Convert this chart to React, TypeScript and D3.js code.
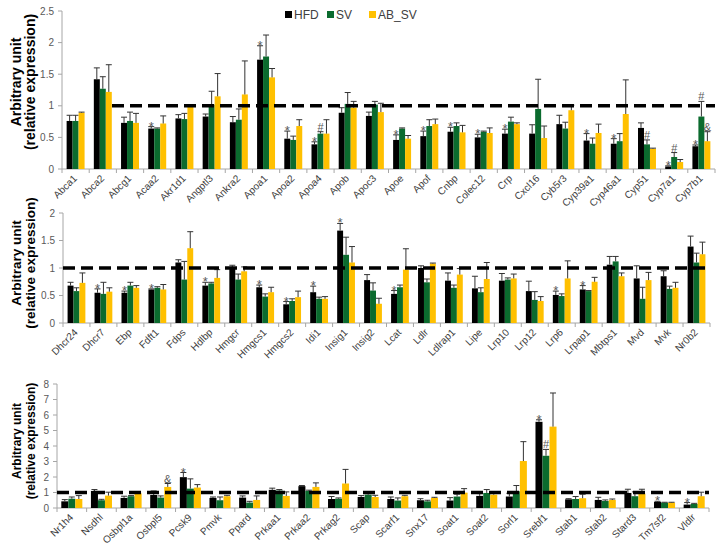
import React, { useRef, useEffect } from 'react';
import * as d3 from 'd3';

const series = ['HFD', 'SV', 'AB_SV'];
const colors = ['#000000', '#0b6b2e', '#ffc000'];

const genes1 = ['Abca1', 'Abca2', 'Abcg1', 'Acaa2', 'Akr1d1', 'Angptl3', 'Ankra2', 'Apoa1', 'Apoa2', 'Apoa4', 'Apob', 'Apoc3', 'Apoe', 'Apof', 'Cnbp', 'Colec12', 'Crp', 'Cxcl16', 'Cyb5r3', 'Cyp39a1', 'Cyp46a1', 'Cyp51', 'Cyp7a1', 'Cyp7b1'];
const hfd1 = [0.76, 1.42, 0.73, 0.64, 0.8, 0.83, 0.74, 1.73, 0.48, 0.39, 0.89, 0.84, 0.46, 0.52, 0.59, 0.5, 0.56, 0.56, 0.71, 0.45, 0.4, 0.65, 0.04, 0.36];
const hfd1Err = [0.09, 0.18, 0.09, 0.03, 0.06, 0.04, 0.09, 0.22, 0.12, 0.04, 0.08, 0.06, 0.08, 0.08, 0.07, 0.05, 0.07, 0.14, 0.14, 0.11, 0.08, 0.08, 0.01, 0.02];
const sv1 = [0.76, 1.27, 0.76, 0.64, 0.79, 1.02, 0.78, 1.78, 0.46, 0.56, 1.03, 1.02, 0.64, 0.68, 0.68, 0.59, 0.75, 0.95, 0.64, 0.4, 0.44, 0.39, 0.19, 0.83];
const sv1Err = [0.09, 0.19, 0.14, 0.01, 0.09, 0.21, 0.17, 0.34, 0.06, 0.03, 0.18, 0.05, 0.01, 0.1, 0.05, 0.01, 0.07, 0.47, 0.1, 0.09, 0.12, 0.07, 0.07, 0.24];
const ab1 = [0.89, 1.22, 0.73, 0.72, 0.99, 1.15, 1.18, 1.45, 0.68, 0.56, 0.97, 0.9, 0.48, 0.71, 0.58, 0.57, 0.71, 0.49, 0.93, 0.57, 0.87, 0.32, 0.11, 0.44];
const ab1Err = [0.01, 0.43, 0.15, 0.12, 0.02, 0.36, 0.53, 0.14, 0.1, 0.22, 0.1, 0.14, 0.05, 0.08, 0.11, 0.08, 0.02, 0.19, 0.08, 0.14, 0.54, 0.01, 0.04, 0.15];

const genes2 = ['Dhcr24', 'Dhcr7', 'Ebp', 'Fdft1', 'Fdps', 'Hdlbp', 'Hmgcr', 'Hmgcs1', 'Hmgcs2', 'Idi1', 'Insig1', 'Insig2', 'Lcat', 'Ldlr', 'Ldlrap1', 'Lipe', 'Lrp10', 'Lrp12', 'Lrp6', 'Lrpap1', 'Mbtps1', 'Mvd', 'Mvk', 'Nr0b2'];
const hfd2 = [0.68, 0.55, 0.55, 0.61, 1.1, 0.68, 1.01, 0.65, 0.34, 0.56, 1.68, 0.78, 0.53, 1.0, 0.77, 0.63, 0.77, 0.58, 0.51, 0.61, 1.06, 0.81, 0.85, 1.39];
const hfd2Err = [0.06, 0.07, 0.03, 0.01, 0.05, 0.06, 0.04, 0.04, 0.05, 0.11, 0.13, 0.1, 0.06, 0.04, 0.14, 0.22, 0.13, 0.18, 0.07, 0.07, 0.15, 0.23, 0.1, 0.19];
const sv2 = [0.58, 0.53, 0.68, 0.64, 0.79, 0.72, 0.79, 0.48, 0.4, 0.44, 1.24, 0.59, 0.65, 0.74, 0.64, 0.56, 0.79, 0.42, 0.49, 0.58, 1.12, 0.44, 0.62, 1.1];
const sv2Err = [0.06, 0.21, 0.06, 0.02, 0.33, 0.02, 0.1, 0.05, 0.04, 0.03, 0.32, 0.14, 0.04, 0.06, 0.05, 0.08, 0.03, 0.15, 0.04, 0.01, 0.09, 0.21, 0.05, 0.17];
const ab2 = [0.73, 0.57, 0.64, 0.61, 1.36, 0.82, 0.94, 0.56, 0.47, 0.44, 1.1, 0.35, 0.97, 1.08, 0.88, 0.8, 0.81, 0.4, 0.81, 0.75, 0.85, 0.78, 0.64, 1.25];
const ab2Err = [0.18, 0.07, 0.04, 0.09, 0.3, 0.15, 0.08, 0.09, 0.11, 0.04, 0.29, 0.1, 0.38, 0.01, 0.11, 0.3, 0.08, 0.08, 0.32, 0.08, 0.06, 0.14, 0.1, 0.22];

const genes3 = ['Nr1h4', 'Nsdhl', 'Osbpl1a', 'Osbpl5', 'Pcsk9', 'Pmvk', 'Ppard', 'Prkaa1', 'Prkaa2', 'Prkag2', 'Scap', 'Scarf1', 'Snx17', 'Soat1', 'Soat2', 'Sorl1', 'Srebf1', 'Stab1', 'Stab2', 'Stard3', 'Tm7sf2', 'Vldlr'];
const hfd3 = [0.43, 1.1, 0.65, 0.84, 1.99, 0.65, 0.67, 1.17, 1.41, 0.58, 0.71, 0.58, 0.5, 0.48, 0.78, 0.74, 5.56, 0.56, 0.52, 0.97, 0.39, 0.22];
const hfd3Err = [0.11, 0.09, 0.11, 0.26, 0.3, 0.06, 0.11, 0.11, 0.04, 0.16, 0.09, 0.13, 0.1, 0.19, 0.15, 0.21, 0.13, 0.04, 0.17, 0.24, 0.04, 0.13];
const sv3 = [0.6, 0.5, 0.76, 0.67, 1.25, 0.5, 0.35, 1.12, 1.1, 0.6, 0.86, 0.48, 0.43, 0.74, 0.97, 1.08, 3.37, 0.58, 0.45, 0.76, 0.35, 0.26];
const sv3Err = [0.11, 0.06, 0.04, 0.11, 0.63, 0.21, 0.08, 0.07, 0.05, 0.05, 0.07, 0.17, 0.07, 0.15, 0.22, 0.37, 0.41, 0.16, 0.07, 0.28, 0.02, 0.04];
const ab3 = [0.58, 0.8, 0.95, 1.36, 1.32, 0.76, 0.52, 0.78, 1.36, 1.58, 0.71, 0.76, 0.65, 0.99, 0.86, 3.03, 5.25, 0.63, 0.52, 0.93, 0.35, 0.76];
const ab3Err = [0.22, 0.22, 0.07, 0.22, 0.19, 0.06, 0.26, 0.26, 0.26, 0.91, 0.11, 0.06, 0.04, 0.26, 0.11, 1.25, 2.17, 0.26, 0.06, 0.28, 0.02, 0.26];

// significance marks: [gene, series index, symbol]
const marks1: [string, number, string][] = [
  ['Acaa2', 0, '*'], ['Apoa1', 0, '*'], ['Apoa2', 0, '*'], ['Apoa4', 0, '*'], ['Apoa4', 1, '#'],
  ['Apoe', 0, '*'], ['Apof', 0, '*'], ['Cnbp', 0, '*'], ['Colec12', 0, '*'], ['Crp', 0, '*'],
  ['Cyp39a1', 0, '*'], ['Cyp46a1', 0, '*'], ['Cyp51', 1, '#'], ['Cyp7a1', 0, '*'], ['Cyp7a1', 1, '#'],
  ['Cyp7b1', 0, '*'], ['Cyp7b1', 1, '#'], ['Cyp7b1', 2, '&'],
];
const marks2: [string, number, string][] = [
  ['Dhcr7', 0, '*'], ['Ebp', 0, '*'], ['Fdft1', 0, '*'], ['Hdlbp', 0, '*'], ['Hmgcs1', 0, '*'],
  ['Hmgcs2', 0, '*'], ['Idi1', 0, '*'], ['Insig1', 0, '*'], ['Lcat', 0, '*'], ['Lrp6', 0, '*'], ['Lrpap1', 0, '*'],
];
const marks3: [string, number, string][] = [
  ['Osbpl5', 2, '&'], ['Pcsk9', 0, '*'], ['Srebf1', 0, '*'], ['Srebf1', 1, '#'], ['Tm7sf2', 0, '*'], ['Vldlr', 0, '*'],
];

const ticks1 = [0, 0.5, 1, 1.5, 2, 2.5];
const ticks2 = [0, 0.5, 1, 1.5, 2];
const ticks3 = [0, 1, 2, 3, 4, 5, 6, 7, 8];

const panels = [
  { genes: genes1, vals: [hfd1, sv1, ab1], errs: [hfd1Err, sv1Err, ab1Err], marks: marks1, ticks: ticks1, max: 2.5, left: 62, right: 715, top: 11, bottom: 169, dashStart: 112, pad: 0.34, titleSize: 14, titleY: 82 },
  { genes: genes2, vals: [hfd2, sv2, ab2], errs: [hfd2Err, sv2Err, ab2Err], marks: marks2, ticks: ticks2, max: 2, left: 63, right: 710, top: 213, bottom: 323, dashStart: 63, pad: 0.34, titleSize: 13.5, titleY: 263 },
  { genes: genes3, vals: [hfd3, sv3, ab3], errs: [hfd3Err, sv3Err, ab3Err], marks: marks3, ticks: ticks3, max: 8, left: 57, right: 709, top: 384, bottom: 508, dashStart: 57, pad: 0.29, titleSize: 12, titleY: 441 },
];

export default function App() {
  const ref = useRef<SVGSVGElement>(null);

  useEffect(() => {
    const svg = d3.select(ref.current);
    svg.selectAll('*').remove();
    const font = '"Liberation Sans", Arial, sans-serif';

    panels.forEach(p => {
      const g = svg.append('g');
      const x0 = d3.scaleBand<string>().domain(p.genes).range([p.left, p.right])
        .paddingInner(p.pad).paddingOuter(p.pad / 2);
      const x1 = d3.scaleBand<string>().domain(series).range([0, x0.bandwidth()]);
      const y = d3.scaleLinear().domain([0, p.max]).range([p.bottom, p.top]);

      // y axis
      g.append('line').attr('x1', p.left).attr('x2', p.left).attr('y1', p.top).attr('y2', p.bottom)
        .attr('stroke', '#a6a6a6');
      p.ticks.forEach(t => {
        g.append('line').attr('x1', p.left - 4).attr('x2', p.left).attr('y1', y(t)).attr('y2', y(t))
          .attr('stroke', '#a6a6a6');
        g.append('text').attr('x', p.left - 8).attr('y', y(t)).attr('dy', '0.35em')
          .attr('text-anchor', 'end').attr('font-size', 10).attr('fill', '#595959')
          .attr('font-family', font).text(String(t));
      });

      // x axis
      g.append('line').attr('x1', p.left).attr('x2', p.right).attr('y1', p.bottom).attr('y2', p.bottom)
        .attr('stroke', '#a6a6a6');
      const step = x0.step();
      d3.range(p.genes.length + 1).forEach(i => {
        const xx = p.left + i * step;
        g.append('line').attr('x1', xx).attr('x2', xx).attr('y1', p.bottom).attr('y2', p.bottom + 4)
          .attr('stroke', '#a6a6a6');
      });
      p.genes.forEach(gene => {
        const cx = (x0(gene) as number) + x0.bandwidth() / 2 + 2;
        g.append('text').attr('transform', `translate(${cx},${p.bottom + 10}) rotate(-45)`)
          .attr('text-anchor', 'end').attr('font-size', 10).attr('fill', '#404040')
          .attr('font-family', font).text(gene);
      });

      // bars + error bars
      series.forEach((s, si) => {
        p.genes.forEach((gene, gi) => {
          const v = p.vals[si][gi];
          const e = p.errs[si][gi];
          const bx = (x0(gene) as number) + (x1(s) as number);
          const bw = x1.bandwidth();
          g.append('rect').attr('x', bx).attr('y', y(v)).attr('width', bw).attr('height', y(0) - y(v))
            .attr('fill', colors[si]);
          const cx = bx + bw / 2;
          g.append('line').attr('x1', cx).attr('x2', cx).attr('y1', y(v)).attr('y2', y(v + e))
            .attr('stroke', '#333').attr('stroke-width', 1);
          g.append('line').attr('x1', cx - 3).attr('x2', cx + 3).attr('y1', y(v + e)).attr('y2', y(v + e))
            .attr('stroke', '#333').attr('stroke-width', 1);
        });
      });

      // reference line at 1
      g.append('line').attr('x1', p.dashStart).attr('x2', p.right).attr('y1', y(1)).attr('y2', y(1))
        .attr('stroke', '#000').attr('stroke-width', 3.5).attr('stroke-dasharray', '12,6');

      // significance marks
      p.marks.forEach(([gene, si, sym]) => {
        const gi = p.genes.indexOf(gene);
        const v = p.vals[si][gi] + p.errs[si][gi];
        const cx = (x0(gene) as number) + (x1(series[si]) as number) + x1.bandwidth() / 2;
        g.append('text').attr('x', cx).attr('y', y(v) + (sym === '*' ? 5 : 0) - 1)
          .attr('text-anchor', 'middle').attr('font-size', sym === '*' ? 13 : 11).attr('fill', '#595959')
          .attr('font-family', font).text(sym);
      });

      // y title
      const tg = g.append('g').attr('font-family', font).attr('font-weight', 'bold')
        .attr('font-size', p.titleSize).attr('fill', '#000').attr('text-anchor', 'middle');
      tg.append('text').attr('transform', `translate(21,${p.titleY}) rotate(-90)`).text('Arbitrary unit');
      tg.append('text').attr('transform', `translate(35,${p.titleY}) rotate(-90)`).text('(relative expression)');
    });

    // legend
    const lg = svg.append('g').attr('font-family', font).attr('font-size', 12).attr('fill', '#404040');
    const lx = [285, 327, 369];
    series.forEach((s, i) => {
      lg.append('rect').attr('x', lx[i]).attr('y', 11).attr('width', 7).attr('height', 7).attr('fill', colors[i]);
      lg.append('text').attr('x', lx[i] + 9).attr('y', 19).text(s);
    });
  }, []);

  return <svg ref={ref} width={724} height={555} style={{ position: 'absolute', left: 0, top: 0 }} />;
}
